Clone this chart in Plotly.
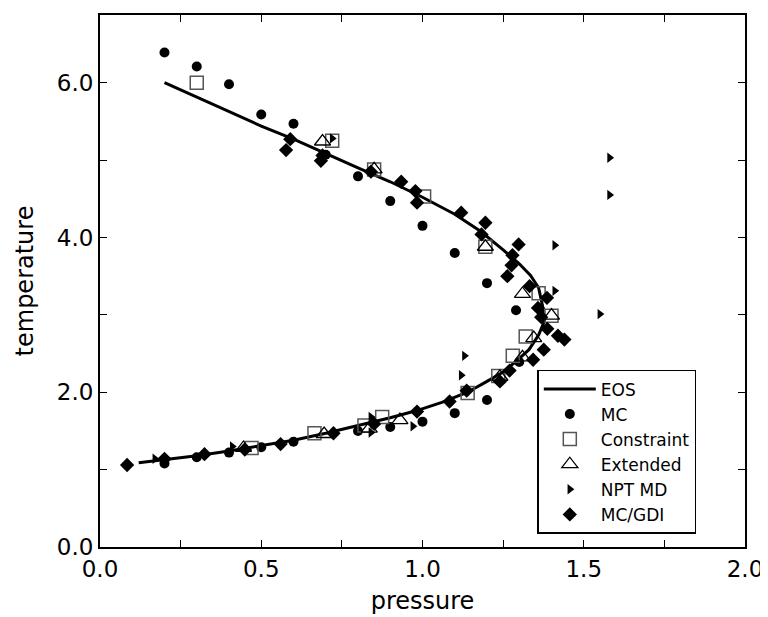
import plotly.graph_objects as go

# EOS curve (pressure, temperature)
eos_p = [0.20, 0.30, 0.40, 0.50, 0.60, 0.70, 0.80, 0.90, 1.00, 1.10, 1.18, 1.25, 1.30, 1.335,
         1.36, 1.372, 1.378, 1.36, 1.33, 1.29, 1.25, 1.20, 1.14, 1.06, 0.98, 0.90, 0.80,
         0.70, 0.60, 0.50, 0.40, 0.30, 0.20, 0.12]
eos_t = [6.00, 5.81, 5.63, 5.44, 5.27, 5.08, 4.90, 4.72, 4.52, 4.30, 4.08, 3.84, 3.66, 3.51,
         3.35, 3.12, 2.92, 2.74, 2.55, 2.40, 2.26, 2.14, 2.00, 1.87, 1.76, 1.67, 1.57,
         1.47, 1.38, 1.31, 1.24, 1.18, 1.13, 1.09]

mc_p = [0.20, 0.30, 0.40, 0.50, 0.60, 0.70, 0.80, 0.90, 1.00, 1.10, 1.20, 1.29,
        0.20, 0.30, 0.40, 0.50, 0.60, 0.80, 0.90, 1.00, 1.10, 1.20, 1.30]
mc_t = [6.39, 6.21, 5.98, 5.59, 5.47, 5.07, 4.79, 4.47, 4.15, 3.80, 3.41, 3.06,
        1.08, 1.16, 1.22, 1.29, 1.36, 1.50, 1.55, 1.62, 1.73, 1.90, 2.39]

con_p = [0.30, 0.72, 0.85, 1.005, 1.195, 1.36, 1.40, 1.32, 1.28, 1.235, 1.14, 0.875, 0.82, 0.665, 0.47]
con_t = [6.00, 5.25, 4.88, 4.53, 3.88, 3.28, 2.99, 2.72, 2.47, 2.21, 1.99, 1.68, 1.57, 1.47, 1.28]

ext_p = [0.69, 0.85, 1.195, 1.31, 1.40, 1.345, 1.31, 1.24, 0.93, 0.835, 0.695, 0.445]
ext_t = [5.24, 4.88, 3.88, 3.27, 2.99, 2.70, 2.45, 2.20, 1.64, 1.53, 1.46, 1.28]

npt_p = [0.17, 0.41, 0.72, 0.84, 0.84, 0.97, 1.12, 1.13, 1.41, 1.41, 1.55, 1.58, 1.58]
npt_t = [1.14, 1.30, 5.28, 1.68, 1.48, 1.56, 2.22, 2.47, 3.31, 3.90, 3.01, 4.55, 5.03]

gdi_p = [0.59, 0.577, 0.69, 0.685, 0.84, 0.934, 0.978, 0.983, 1.12, 1.195, 1.183, 1.298,
         1.279, 1.276, 1.263, 1.332, 1.386, 1.358, 1.368, 1.387, 1.42, 1.44, 1.376, 1.343,
         1.27, 1.24, 1.137, 1.084, 0.983, 0.85, 0.724, 0.56, 0.449, 0.324, 0.20, 0.084]
gdi_t = [5.27, 5.13, 5.06, 4.99, 4.85, 4.72, 4.60, 4.45, 4.32, 4.19, 4.04, 3.91,
         3.77, 3.64, 3.50, 3.37, 3.22, 3.09, 2.97, 2.82, 2.73, 2.68, 2.55, 2.42,
         2.28, 2.14, 2.02, 1.88, 1.75, 1.59, 1.47, 1.33, 1.26, 1.20, 1.14, 1.06]

fig = go.Figure()
fig.add_trace(go.Scatter(x=eos_p, y=eos_t, mode="lines", name="EOS",
                         line=dict(color="black", width=3)))
fig.add_trace(go.Scatter(x=mc_p, y=mc_t, mode="markers", name="MC",
                         marker=dict(symbol="circle", size=10, color="black")))
fig.add_trace(go.Scatter(x=con_p, y=con_t, mode="markers", name="Constraint",
                         marker=dict(symbol="square-open", size=13, color="#555555",
                                     line=dict(width=1.5))))
fig.add_trace(go.Scatter(x=ext_p, y=ext_t, mode="markers", name="Extended",
                         marker=dict(symbol="triangle-up-open", size=14, color="black",
                                     line=dict(width=1.3))))
fig.add_trace(go.Scatter(x=npt_p, y=npt_t, mode="markers", name="NPT MD",
                         marker=dict(symbol="triangle-right", size=9, color="black")))
fig.add_trace(go.Scatter(x=gdi_p, y=gdi_t, mode="markers", name="MC/GDI",
                         marker=dict(symbol="diamond", size=11, color="black")))

font = "DejaVu Sans, sans-serif"
axis_common = dict(showline=True, linecolor="black", linewidth=2, mirror="allticks",
                   ticks="inside", ticklen=7, tickcolor="black", tickwidth=1,
                   showgrid=False, zeroline=False,
                   tickfont=dict(family=font, size=23, color="black"))

# page body adds an 8px offset, so the figure is 8px smaller than the window
fig.update_layout(
    width=760, height=609,
    margin=dict(l=92, r=22, t=5, b=70),
    plot_bgcolor="white", paper_bgcolor="white",
    xaxis=dict(range=[0, 2], dtick=0.5, tickformat=".1f",
               minor=dict(dtick=0.25, ticks="inside", ticklen=7, tickcolor="black"),
               title=dict(text="pressure", font=dict(family=font, size=24, color="black"),
                          standoff=12),
               **axis_common),
    yaxis=dict(range=[0, 6.875], dtick=2, tickformat=".1f",
               minor=dict(dtick=1, ticks="inside", ticklen=7, tickcolor="black"),
               title=dict(text="temperature", font=dict(family=font, size=24, color="black"),
                          standoff=16),
               **axis_common),
    legend=dict(x=0.678, y=0.333, xanchor="left", yanchor="top",
                bgcolor="white", bordercolor="black", borderwidth=1.5,
                font=dict(family=font, size=17, color="black"),
                tracegroupgap=0, itemwidth=52),
    showlegend=True,
)

fig.write_html("out.html")
